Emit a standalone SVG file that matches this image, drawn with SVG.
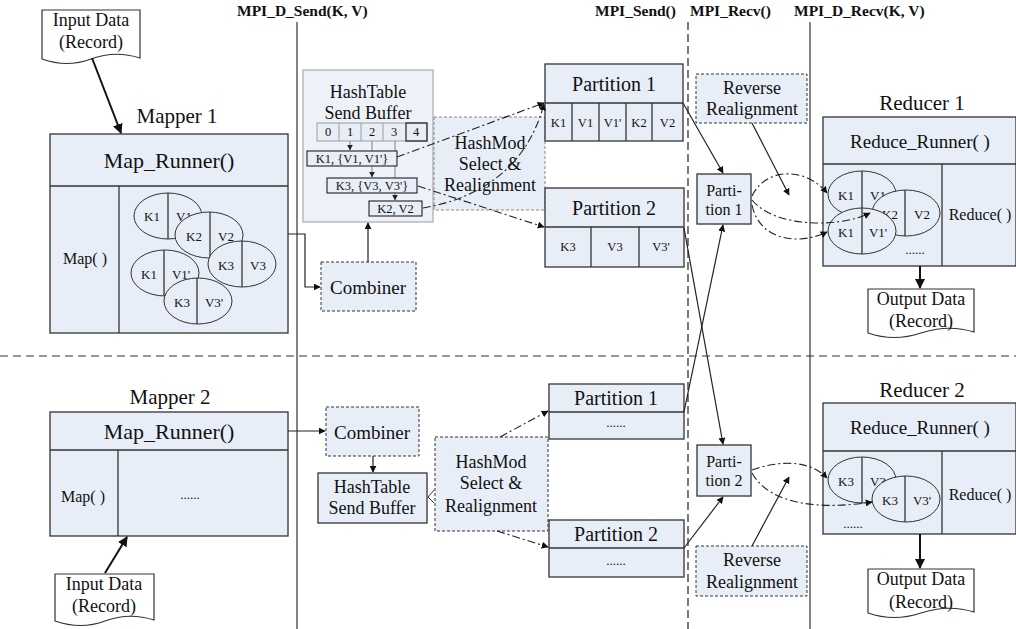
<svg xmlns="http://www.w3.org/2000/svg" width="1016" height="629" viewBox="0 0 1016 629">
<defs>
<style>
text{font-family:"Liberation Serif","Times New Roman",serif;fill:#111;text-anchor:middle;dominant-baseline:central}
.hdr{font-weight:bold;font-size:15.5px;text-anchor:start;dominant-baseline:auto}
.box{fill:#E8EEF7;stroke:#333;stroke-width:1.3}
.dbox{fill:#E8EEF7;stroke:#333;stroke-width:1;stroke-dasharray:3,2}
.gbox{fill:#E8EEF7;stroke:#888;stroke-width:1;stroke-dasharray:3,2}
.ln{fill:none;stroke:#333;stroke-width:1.3}
.doc{fill:#fff;stroke:#333;stroke-width:1.2}
.ell{fill:#E8EEF7;stroke:#333;stroke-width:1}
.c{fill:none;stroke:#222;stroke-width:1.2}
.thick{fill:none;stroke:#111;stroke-width:2}
.dd{fill:none;stroke:#222;stroke-width:1.1;stroke-dasharray:8,3,2,3}
.t13{font-size:13px}
.t12{font-size:12.5px}
.t16{font-size:16px}
.t18{font-size:18px}
.t19{font-size:19px}
.t20{font-size:20px}
.t21{font-size:21px}
.t22{font-size:22px}
</style>
<marker id="ah" viewBox="0 0 10 10" refX="9" refY="5" markerWidth="7" markerHeight="7" orient="auto" markerUnits="userSpaceOnUse"><path d="M0,0 L10,5 L0,10 Z" fill="#111"/></marker>
<marker id="ahb" viewBox="0 0 10 10" refX="9" refY="5" markerWidth="10" markerHeight="10" orient="auto" markerUnits="userSpaceOnUse"><path d="M0,0 L10,5 L0,10 Z" fill="#111"/></marker>
<marker id="ahs" viewBox="0 0 10 10" refX="9" refY="5" markerWidth="6" markerHeight="6" orient="auto" markerUnits="userSpaceOnUse"><path d="M0,0 L10,5 L0,10 Z" fill="#222"/></marker>
</defs>

<g id="frame">
<line x1="297" y1="22" x2="297" y2="629" stroke="#333" stroke-width="1.2"/>
<line x1="688" y1="22" x2="688" y2="629" stroke="#222" stroke-width="1.2" stroke-dasharray="8,4"/>
<line x1="810" y1="22" x2="810" y2="629" stroke="#333" stroke-width="1.2"/>
<line x1="0" y1="356" x2="1016" y2="356" stroke="#333" stroke-width="1.2" stroke-dasharray="8,5"/>
<text class="hdr" x="237" y="16">MPI_D_Send(K, V)</text>
<text class="hdr" x="595" y="16">MPI_Send()</text>
<text class="hdr" x="690" y="16">MPI_Recv()</text>
<text class="hdr" x="794" y="16">MPI_D_Recv(K, V)</text>
</g>

<g id="input1">
<path class="doc" d="M42,10 H140 V58 Q115,50 91,59 T42,59 Z"/>
<text class="t18" x="91" y="20">Input Data</text>
<text class="t18" x="91" y="42">(Record)</text>
</g>

<g id="mapper1">
<text class="t21" x="177" y="116">Mapper 1</text>
<rect class="box" x="50" y="134" width="238" height="199"/>
<line class="ln" x1="50" y1="186" x2="288" y2="186"/>
<line class="ln" x1="119" y1="186" x2="119" y2="333"/>
<text class="t22" x="169" y="160">Map_Runner()</text>
<text class="t16" x="85" y="258">Map( )</text>
<g>
<ellipse class="ell" cx="168" cy="216" rx="34" ry="23"/><line class="ln" x1="168" y1="193" x2="168" y2="239" stroke-width="1"/>
<text class="t13" x="152" y="216">K1</text><text class="t13" x="184" y="216">V1</text>
<ellipse class="ell" cx="209" cy="235" rx="34" ry="23"/><line class="ln" x1="210" y1="212" x2="210" y2="258" stroke-width="1"/>
<text class="t13" x="194" y="236">K2</text><text class="t13" x="226" y="236">V2</text>
<ellipse class="ell" cx="242" cy="264" rx="34" ry="23"/><line class="ln" x1="242" y1="241" x2="242" y2="287" stroke-width="1"/>
<text class="t13" x="226" y="265">K3</text><text class="t13" x="258" y="265">V3</text>
<ellipse class="ell" cx="165" cy="273" rx="34" ry="23"/><line class="ln" x1="164" y1="250" x2="164" y2="296" stroke-width="1"/>
<text class="t13" x="149" y="274">K1</text><text class="t13" x="181" y="274">V1'</text>
<ellipse class="ell" cx="198" cy="301" rx="34" ry="23"/><line class="ln" x1="197" y1="278" x2="197" y2="324" stroke-width="1"/>
<text class="t13" x="182" y="302">K3</text><text class="t13" x="214" y="302">V3'</text>
</g>
</g>

<g id="hashtable1">
<rect x="303" y="70" width="130" height="152" fill="#EEF2F8" stroke="#999" stroke-width="1"/>
<text class="t18" x="368" y="92">HashTable</text>
<text class="t18" x="368" y="113">Send Buffer</text>
<rect x="317" y="123" width="110" height="18" fill="#E8EEF7" stroke="#888" stroke-width="0.8"/>
<line x1="339" y1="123" x2="339" y2="141" stroke="#888" stroke-width="0.8"/>
<line x1="361" y1="123" x2="361" y2="141" stroke="#888" stroke-width="0.8"/>
<line x1="383" y1="123" x2="383" y2="141" stroke="#888" stroke-width="0.8"/>
<rect x="406" y="123" width="21" height="18" fill="none" stroke="#222" stroke-width="1.2"/>
<text class="t12" x="328" y="132">0</text>
<text class="t12" x="350" y="132">1</text>
<text class="t12" x="372" y="132">2</text>
<text class="t12" x="394" y="132">3</text>
<text class="t12" x="416" y="132">4</text>
<line x1="350" y1="141" x2="350" y2="150" stroke="#666" stroke-width="0.8" marker-end="url(#ahs)"/>
<line x1="372" y1="141" x2="372" y2="177" stroke="#666" stroke-width="0.8" marker-end="url(#ahs)"/>
<line x1="395" y1="141" x2="395" y2="200" stroke="#666" stroke-width="0.8" marker-end="url(#ahs)"/>
<rect x="307" y="151" width="90" height="15" fill="#E8EEF7" stroke="#222" stroke-width="1.1"/>
<text class="t12" x="352" y="158.5">K1, {V1, V1'}</text>
<rect x="327" y="178" width="90" height="15" fill="#E8EEF7" stroke="#222" stroke-width="1.1"/>
<text class="t12" x="372" y="185.5">K3, {V3, V3'}</text>
<rect x="369" y="201" width="53" height="15" fill="#E8EEF7" stroke="#222" stroke-width="1.1"/>
<text class="t12" x="395.5" y="208.5">K2, V2</text>
</g>

<g id="hashmod1">
<rect class="gbox" x="434" y="117" width="111" height="93"/>
<text class="t18" x="490" y="143">HashMod</text>
<text class="t18" x="490" y="164">Select &amp;</text>
<text class="t18" x="490" y="185">Realignment</text>
</g>

<g id="combiner1">
<rect class="dbox" x="321" y="262" width="95" height="49"/>
<text class="t19" x="368" y="287">Combiner</text>
</g>

<g id="partition1a">
<rect class="box" x="545" y="64" width="138" height="77"/>
<line class="ln" x1="545" y1="103" x2="683" y2="103"/>
<line class="ln" x1="572" y1="103" x2="572" y2="141"/>
<line class="ln" x1="599" y1="103" x2="599" y2="141"/>
<line class="ln" x1="626" y1="103" x2="626" y2="141"/>
<line class="ln" x1="652" y1="103" x2="652" y2="141"/>
<text class="t20" x="614" y="84">Partition 1</text>
<text class="t12" x="558.5" y="123">K1</text>
<text class="t12" x="585.5" y="123">V1</text>
<text class="t12" x="612.5" y="123">V1'</text>
<text class="t12" x="639" y="123">K2</text>
<text class="t12" x="667.5" y="123">V2</text>
</g>

<g id="partition2a">
<rect class="box" x="545" y="188" width="139" height="79"/>
<line class="ln" x1="545" y1="227" x2="684" y2="227"/>
<line class="ln" x1="591" y1="227" x2="591" y2="267"/>
<line class="ln" x1="639" y1="227" x2="639" y2="267"/>
<text class="t20" x="614" y="208">Partition 2</text>
<text class="t12" x="568" y="247">K3</text>
<text class="t12" x="615" y="247">V3</text>
<text class="t12" x="661" y="247">V3'</text>
</g>

<g id="reverse1">
<rect class="dbox" x="696" y="74" width="111" height="49"/>
<text class="t18" x="752" y="88">Reverse</text>
<text class="t18" x="752" y="109">Realignment</text>
</g>

<g id="recvpart1">
<rect class="box" x="697" y="174" width="54" height="50"/>
<text class="t16" x="724" y="190">Parti-</text>
<text class="t16" x="724" y="209">tion 1</text>
</g>

<g id="reducer1">
<text class="t21" x="922" y="103">Reducer 1</text>
<rect class="box" x="823" y="117" width="193" height="149"/>
<line class="ln" x1="823" y1="164" x2="1016" y2="164"/>
<line class="ln" x1="942" y1="164" x2="942" y2="266"/>
<text class="t19" x="920" y="141">Reduce_Runner( )</text>
<text class="t16" x="980" y="214">Reduce( )</text>
<ellipse class="ell" cx="862" cy="194" rx="34" ry="23"/><line class="ln" x1="862" y1="171" x2="862" y2="217" stroke-width="1"/>
<text class="t13" x="846" y="195">K1</text><text class="t13" x="878" y="195">V1</text>
<ellipse class="ell" cx="906" cy="213" rx="34" ry="23"/><line class="ln" x1="905" y1="190" x2="905" y2="236" stroke-width="1"/>
<text class="t13" x="890" y="214">K2</text><text class="t13" x="922" y="214">V2</text>
<ellipse class="ell" cx="862" cy="231" rx="34" ry="23"/><line class="ln" x1="862" y1="208" x2="862" y2="254" stroke-width="1"/>
<text class="t13" x="846" y="232">K1</text><text class="t13" x="878" y="232">V1'</text>
<text class="t13" x="915" y="249">......</text>
</g>

<g id="output1">
<path class="doc" d="M868,289 H974 V332 Q948,324 921,333 T868,333 Z"/>
<text class="t18" x="921" y="299">Output Data</text>
<text class="t18" x="921" y="321">(Record)</text>
</g>

<g id="mapper2">
<text class="t21" x="170" y="397">Mapper 2</text>
<rect class="box" x="50" y="412" width="238" height="124"/>
<line class="ln" x1="50" y1="450" x2="288" y2="450"/>
<line class="ln" x1="118" y1="450" x2="118" y2="536"/>
<text class="t22" x="169" y="431">Map_Runner()</text>
<text class="t16" x="83" y="496">Map( )</text>
<text class="t13" x="190" y="494">......</text>
</g>

<g id="input2">
<path class="doc" d="M55,574 H154 V620 Q129,612 105,621 T55,621 Z"/>
<text class="t18" x="104" y="584">Input Data</text>
<text class="t18" x="104" y="606">(Record)</text>
</g>

<g id="combiner2">
<rect class="dbox" x="326" y="407" width="93" height="49"/>
<text class="t19" x="372" y="432">Combiner</text>
</g>

<g id="hashtable2">
<rect class="box" x="318" y="473" width="109" height="50"/>
<text class="t18" x="372" y="487">HashTable</text>
<text class="t18" x="372" y="508">Send Buffer</text>
</g>

<g id="hashmod2">
<rect class="dbox" x="435" y="437" width="113" height="94"/>
<text class="t18" x="491" y="462">HashMod</text>
<text class="t18" x="491" y="483">Select &amp;</text>
<text class="t18" x="491" y="506">Realignment</text>
</g>

<g id="partition1b">
<rect class="box" x="549" y="384" width="135" height="55"/>
<line class="ln" x1="549" y1="412" x2="684" y2="412"/>
<text class="t20" x="616" y="398">Partition 1</text>
<text class="t13" x="616" y="422">......</text>
</g>

<g id="partition2b">
<rect class="box" x="549" y="520" width="135" height="57"/>
<line class="ln" x1="549" y1="548" x2="684" y2="548"/>
<text class="t20" x="616" y="534">Partition 2</text>
<text class="t13" x="616" y="560">......</text>
</g>

<g id="recvpart2">
<rect class="box" x="697" y="445" width="54" height="51"/>
<text class="t16" x="724" y="461">Parti-</text>
<text class="t16" x="724" y="480">tion 2</text>
</g>

<g id="reverse2">
<rect class="dbox" x="696" y="546" width="111" height="50"/>
<text class="t18" x="752" y="560">Reverse</text>
<text class="t18" x="752" y="582">Realignment</text>
</g>

<g id="reducer2">
<text class="t21" x="922" y="390">Reducer 2</text>
<rect class="box" x="823" y="403" width="193" height="131"/>
<line class="ln" x1="823" y1="451" x2="1016" y2="451"/>
<line class="ln" x1="942" y1="451" x2="942" y2="534"/>
<text class="t19" x="920" y="427">Reduce_Runner( )</text>
<text class="t16" x="980" y="494">Reduce( )</text>
<ellipse class="ell" cx="862" cy="480" rx="34" ry="23"/><line class="ln" x1="862" y1="457" x2="862" y2="503" stroke-width="1"/>
<text class="t13" x="846" y="481">K3</text><text class="t13" x="878" y="481">V3</text>
<ellipse class="ell" cx="906" cy="499" rx="34" ry="23"/><line class="ln" x1="905" y1="476" x2="905" y2="522" stroke-width="1"/>
<text class="t13" x="890" y="500">K3</text><text class="t13" x="922" y="500">V3'</text>
<text class="t13" x="853" y="523">......</text>
</g>

<g id="output2">
<path class="doc" d="M868,569 H974 V612 Q948,604 921,613 T868,613 Z"/>
<text class="t18" x="921" y="579">Output Data</text>
<text class="t18" x="921" y="602">(Record)</text>
</g>

<g id="connectors">
<line class="thick" x1="92" y1="58" x2="121" y2="133" marker-end="url(#ahb)"/>
<line class="thick" x1="105" y1="573" x2="127" y2="537" marker-end="url(#ahb)"/>
<line class="thick" x1="920" y1="266" x2="920" y2="288" marker-end="url(#ahb)"/>
<line class="thick" x1="920" y1="534" x2="920" y2="568" marker-end="url(#ahb)"/>
<polyline class="c" points="288,234 305,234 305,287 320,287" marker-end="url(#ah)"/>
<line class="c" x1="368" y1="262" x2="368" y2="223" marker-end="url(#ah)"/>
<line class="c" x1="288" y1="431" x2="325" y2="431" marker-end="url(#ah)"/>
<line class="c" x1="373" y1="456" x2="373" y2="472" marker-end="url(#ah)"/>
<polyline fill="none" stroke="#333" stroke-width="1" points="434,490 428,497 434,503"/>
<path class="dd" d="M397,157 L544,103" marker-end="url(#ah)"/>
<path class="dd" d="M423,208 C470,200 525,175 544,104" marker-end="url(#ah)"/>
<path class="dd" d="M418,186 L544,227" marker-end="url(#ah)"/>
<path class="dd" d="M500,437 L548,411" marker-end="url(#ah)"/>
<path class="dd" d="M497,531 L548,547" marker-end="url(#ah)"/>
<line class="c" x1="683" y1="103" x2="723" y2="173" marker-end="url(#ah)"/>
<line class="c" x1="684" y1="228" x2="723" y2="444" marker-end="url(#ah)"/>
<line class="c" x1="684" y1="412" x2="723" y2="225" marker-end="url(#ah)"/>
<line class="c" x1="684" y1="548" x2="723" y2="497" marker-end="url(#ah)"/>
<line class="c" x1="752" y1="123" x2="789" y2="195" marker-end="url(#ah)"/>
<line class="c" x1="752" y1="546" x2="789" y2="477" marker-end="url(#ah)"/>
<path class="dd" d="M752,196 C765,168 805,166 827,193" marker-end="url(#ah)"/>
<path class="dd" d="M752,200 C775,228 840,228 870,213" marker-end="url(#ah)"/>
<path class="dd" d="M752,205 C760,242 800,245 827,232" marker-end="url(#ah)"/>
<path class="dd" d="M752,470 C780,460 810,460 827,478" marker-end="url(#ah)"/>
<path class="dd" d="M752,473 C770,505 820,510 872,502" marker-end="url(#ah)"/>
</g>
</svg>
